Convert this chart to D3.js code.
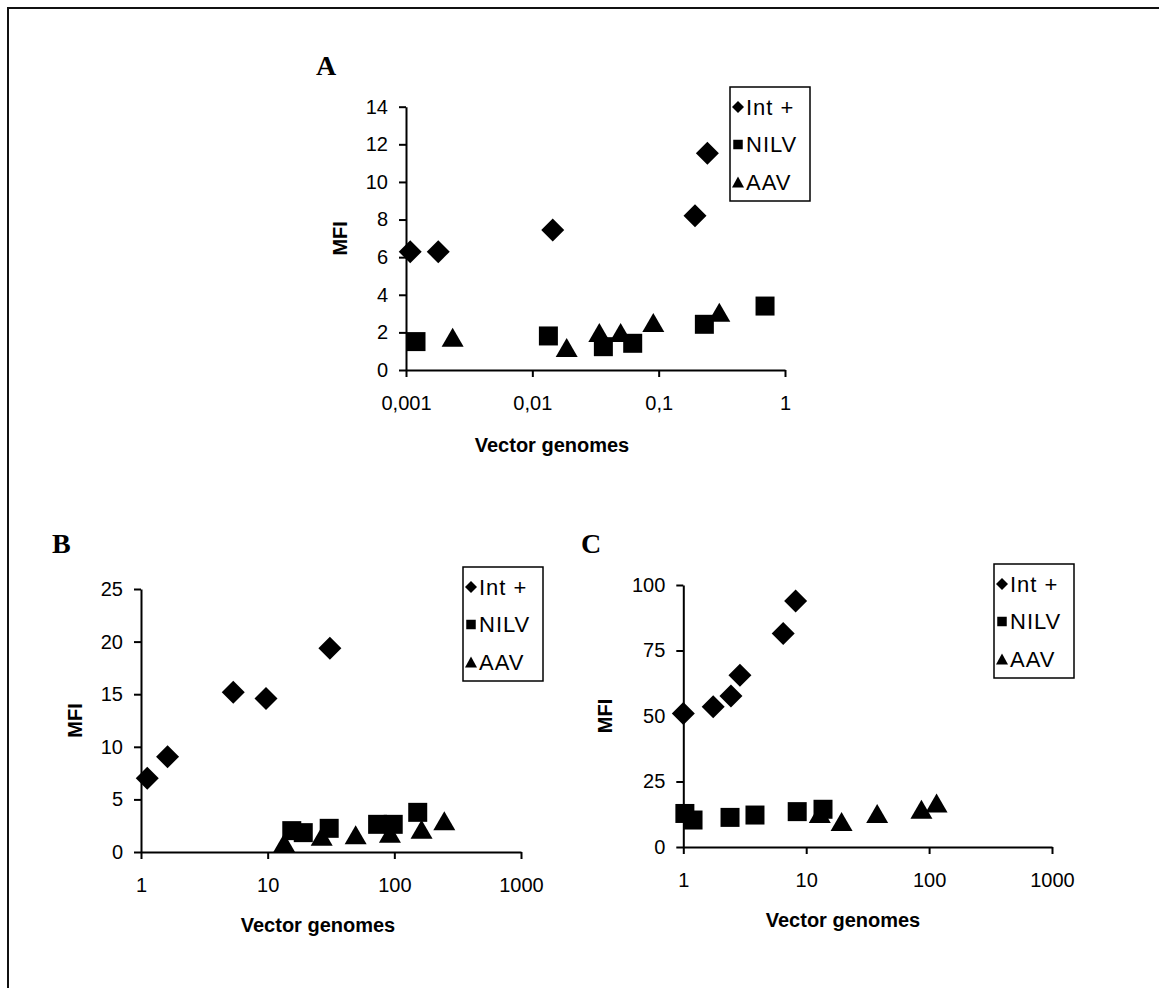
<!DOCTYPE html>
<html>
<head>
<meta charset="utf-8">
<script src="https://cdn.jsdelivr.net/npm/d3@7"></script>
<style>
  html, body { margin: 0; padding: 0; background: #fff; }
  svg { display: block; }
  .tick text { font-family: "Liberation Sans", Arial, sans-serif; }
</style>
</head>
<body>
<svg id="fig" width="1159" height="988"></svg>
<script>
// ---- Panel A : vector genomes vs MFI ----
const aIntX  = [0.00108, 0.0018, 0.0145, 0.194, 0.243];
const aIntY  = [6.29, 6.29, 7.44, 8.2, 11.52];
const aNilvX = [0.0012, 0.0134, 0.0365, 0.0623, 0.23, 0.695];
const aNilvY = [1.51, 1.81, 1.24, 1.42, 2.43, 3.4];
const aAavX  = [0.00234, 0.0187, 0.0339, 0.05, 0.0907, 0.302];
const aAavY  = [1.74, 1.2, 1.99, 2.0, 2.52, 3.07];
const aXTicks = [0.001, 0.01, 0.1, 1];
const aXTickLabels = ["0,001", "0,01", "0,1", "1"];
const aYTicks = [0, 2, 4, 6, 8, 10, 12, 14];

// ---- Panel B ----
const bIntX  = [1.12, 1.62, 5.35, 9.7, 31];
const bIntY  = [7.0, 9.06, 15.18, 14.6, 19.36];
const bNilvX = [15.5, 19.1, 30.6, 73.8, 98, 153];
const bNilvY = [2.03, 1.84, 2.25, 2.63, 2.63, 3.77];
const bAavX  = [13.5, 26.7, 49.5, 92.3, 164, 248];
const bAavY  = [0.89, 1.49, 1.65, 1.78, 2.16, 2.98];
const bXTicks = [1, 10, 100, 1000];
const bXTickLabels = ["1", "10", "100", "1000"];
const bYTicks = [0, 5, 10, 15, 20, 25];

// ---- Panel C ----
const cIntX  = [1.0, 1.75, 2.44, 2.89, 6.5, 8.2];
const cIntY  = [51.0, 53.5, 57.6, 65.6, 81.5, 93.9];
const cNilvX = [1.03, 1.2, 2.4, 3.83, 8.45, 13.7];
const cNilvY = [12.8, 10.3, 11.3, 12.2, 13.5, 14.4];
const cAavX  = [12.9, 19.4, 37.8, 86.6, 115];
const cAavY  = [12.8, 9.7, 12.8, 14.4, 16.8];
const cXTicks = [1, 10, 100, 1000];
const cXTickLabels = ["1", "10", "100", "1000"];
const cYTicks = [0, 25, 50, 75, 100];

const seriesNames = ["Int +", "NILV", "AAV"];
const xTitle = "Vector genomes";
const yTitle = "MFI";

const SANS = '"Liberation Sans", Arial, sans-serif';
const SERIF = '"Liberation Serif", "Times New Roman", serif';

const svg = d3.select("#fig");

// outer frame
svg.append("rect").attr("x", 8).attr("y", 8).attr("width", 1200).attr("height", 1100)
  .attr("fill", "none").attr("stroke", "#111").attr("stroke-width", 2);

// marker shapes (centred on the point)
function diamondPath(r) { return `M0,${-r}L${r},0L0,${r}L${-r},0Z`; }
function squarePath(s) { const h = s / 2; return `M${-h},${-h}H${h}V${h}H${-h}Z`; }
function trianglePath(w, h) { return `M0,${-h/2}L${w/2},${h/2}L${-w/2},${h/2}Z`; }

const bigMarkers = [diamondPath(11.5), squarePath(19), trianglePath(22, 19)];
const smallMarkers = [diamondPath(6), squarePath(9.5), trianglePath(12, 11)];

const panels = [
  { letter: "A", letterPos: [316, 75],
    x0: 406, x1: 785, y0: 370, y1: 106.7,
    xDomain: [0.001, 1], yDomain: [0, 14],
    xTicks: aXTicks, xLabels: aXTickLabels, yTicks: aYTicks,
    series: [[aIntX, aIntY], [aNilvX, aNilvY], [aAavX, aAavY]],
    legend: [730, 87], yTitleX: 340, xTitleX: 552, xTitleY: 452 },
  { letter: "B", letterPos: [52, 553],
    x0: 141, x1: 521, y0: 852, y1: 589,
    xDomain: [1, 1000], yDomain: [0, 25],
    xTicks: bXTicks, xLabels: bXTickLabels, yTicks: bYTicks,
    series: [[bIntX, bIntY], [bNilvX, bNilvY], [bAavX, bAavY]],
    legend: [463, 567], yTitleX: 75, xTitleX: 318, xTitleY: 932 },
  { letter: "C", letterPos: [581, 553],
    x0: 683.3, x1: 1052, y0: 847, y1: 585,
    xDomain: [1, 1000], yDomain: [0, 100],
    xTicks: cXTicks, xLabels: cXTickLabels, yTicks: cYTicks,
    series: [[cIntX, cIntY], [cNilvX, cNilvY], [cAavX, cAavY]],
    legend: [994, 564], yTitleX: 605, xTitleX: 843, xTitleY: 927 }
];

panels.forEach(p => {
  const x = d3.scaleLog().domain(p.xDomain).range([p.x0, p.x1]);
  const y = d3.scaleLinear().domain(p.yDomain).range([p.y0, p.y1]);
  const g = svg.append("g");

  // panel letter
  g.append("text").attr("x", p.letterPos[0]).attr("y", p.letterPos[1])
    .attr("font-family", SERIF).attr("font-weight", "bold").attr("font-size", 28)
    .text(p.letter);

  // axes
  const xAxis = d3.axisBottom(x).tickValues(p.xTicks)
    .tickFormat((d, i) => p.xLabels[i]).tickSize(7).tickSizeOuter(0).tickPadding(19);
  const yAxis = d3.axisLeft(y).tickValues(p.yTicks)
    .tickFormat(d3.format("d")).tickSize(7).tickSizeOuter(0).tickPadding(11);

  const gx = g.append("g").attr("transform", `translate(0,${p.y0})`).call(xAxis);
  const gy = g.append("g").attr("transform", `translate(${p.x0},0)`).call(yAxis);
  [gx, gy].forEach(a => {
    a.selectAll("path.domain").attr("stroke", "#000").attr("stroke-width", 2);
    a.selectAll(".tick line").attr("stroke", "#000").attr("stroke-width", 2);
    a.selectAll(".tick text").attr("font-size", 20).attr("fill", "#000")
      .attr("font-family", SANS);
  });

  // axis titles
  g.append("text").attr("x", p.xTitleX).attr("y", p.xTitleY)
    .attr("text-anchor", "middle").attr("font-family", SANS)
    .attr("font-weight", "bold").attr("font-size", 20).text(xTitle);
  const yMid = (p.y0 + p.y1) / 2;
  g.append("text").attr("transform", `translate(${p.yTitleX},${yMid}) rotate(-90)`)
    .attr("text-anchor", "middle").attr("dy", "0.36em").attr("font-family", SANS)
    .attr("font-weight", "bold").attr("font-size", 20).text(yTitle);

  // markers
  p.series.forEach((s, si) => {
    const pts = s[0].map((xv, i) => [xv, s[1][i]]);
    g.append("g").selectAll("path").data(pts).join("path")
      .attr("d", bigMarkers[si])
      .attr("transform", d => `translate(${x(d[0])},${y(d[1])})`)
      .attr("fill", "#000");
  });

  // legend
  const lg = g.append("g").attr("transform", `translate(${p.legend[0]},${p.legend[1]})`);
  lg.append("rect").attr("width", 80).attr("height", 114)
    .attr("fill", "#fff").attr("stroke", "#000").attr("stroke-width", 1.5);
  seriesNames.forEach((name, i) => {
    const cy = 20 + i * 37.5;
    lg.append("path").attr("d", smallMarkers[i])
      .attr("transform", `translate(8,${cy})`).attr("fill", "#000");
    lg.append("text").attr("x", 16).attr("y", cy).attr("dy", "0.36em")
      .attr("font-family", SANS).attr("font-size", 22).attr("letter-spacing", 1)
      .text(name);
  });
});
</script>
</body>
</html>
